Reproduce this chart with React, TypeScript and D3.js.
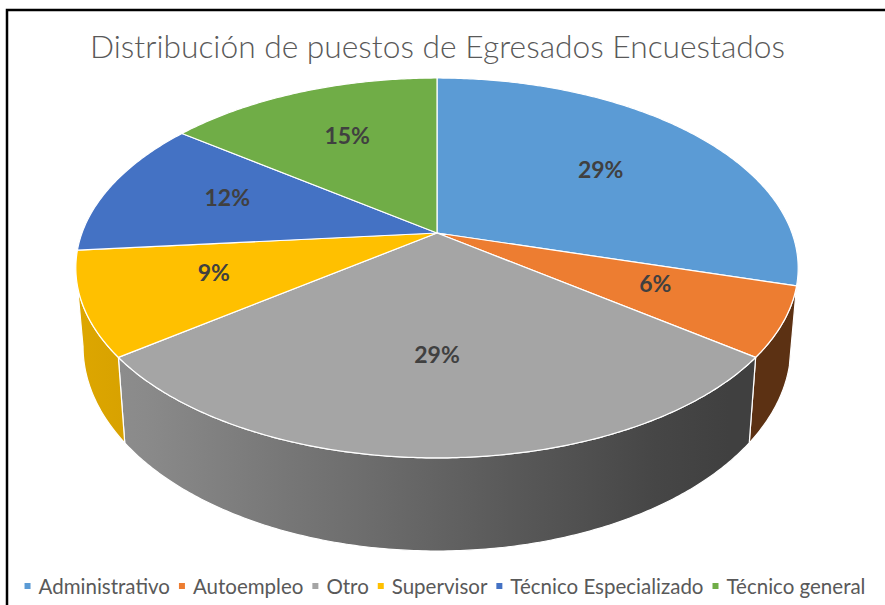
import React, { useEffect, useRef } from 'react';
import * as d3 from 'd3';

const title = 'Distribución de puestos de Egresados Encuestados';
const categories = ['Administrativo', 'Autoempleo', 'Otro', 'Supervisor', 'Técnico Especializado', 'Técnico general'];
const counts = [10, 2, 10, 3, 4, 5];
const colors = ['#5B9BD5', '#ED7D31', '#A5A5A5', '#FFC000', '#4472C4', '#70AD47'];

const App = () => {
    const ref = useRef<SVGSVGElement>(null);

    useEffect(() => {
        const width = 885;
        const height = 605;
        const svg = d3.select(ref.current);
        svg.selectAll('*').remove();

        // outer frame (only top and left edges show in the crop)
        svg.append('path')
            .attr('d', `M7,${height}V10H${width}`)
            .attr('fill', 'none')
            .attr('stroke', '#000')
            .attr('stroke-width', 2.5);

        // title
        svg.append('text')
            .attr('x', 437.5)
            .attr('y', 58)
            .attr('text-anchor', 'middle')
            .attr('font-family', 'Lato, "Open Sans", sans-serif')
            .attr('font-weight', 300)
            .attr('font-size', 31)
            .attr('fill', '#595959')
            .attr('textLength', 695)
            .attr('lengthAdjust', 'spacingAndGlyphs')
            .text(title);

        // tilted disc with a little perspective
        const cx = 437, cy = 233, rx = 355, ry = 183.5, persp = 0.184, depth = 76;
        const proj = (r: number, a: number): [number, number] => {
            const w = 1 + persp * r * Math.cos(a);
            return [cx + (rx * r * Math.sin(a)) / w, cy - (ry * r * Math.cos(a)) / w];
        };
        const projBottom = (a: number): [number, number] => {
            const [x, y] = proj(1, a);
            const w = 1 + persp * Math.cos(a);
            return [cx + (x - cx) * 0.98, y + depth / w];
        };
        const sweep = (a0: number, a1: number) => {
            const n = Math.max(2, Math.ceil(Math.abs(a1 - a0) / 0.01));
            return d3.range(n + 1).map((i) => a0 + ((a1 - a0) * i) / n);
        };

        const pie = d3.pie<number>().sort(null).value((d) => d);
        const arcs = pie(counts);
        const total = d3.sum(counts);
        const line = d3.line();

        // side shading gets darker to the right
        const shade = d3.scaleLinear().domain([100, 700]).range([0.87, 0.39]).clamp(true);
        const defs = svg.append('defs');
        const gx0 = cx - rx - 10, gx1 = cx + rx + 10;
        colors.forEach((c, i) => {
            const g = defs.append('linearGradient')
                .attr('id', `side-${i}`)
                .attr('gradientUnits', 'userSpaceOnUse')
                .attr('x1', gx0).attr('x2', gx1).attr('y1', 0).attr('y2', 0);
            d3.range(11).forEach((k) => {
                const t = k / 10;
                const f = shade(gx0 + t * (gx1 - gx0));
                const rgb = d3.rgb(c);
                g.append('stop')
                    .attr('offset', t)
                    .attr('stop-color', d3.rgb(rgb.r * f, rgb.g * f, rgb.b * f).formatHex());
            });
        });

        // side walls (front half only)
        const sideStart = Math.acos(-persp);
        const sideEnd = 2 * Math.PI - sideStart;
        arcs.forEach((d, i) => {
            const a0 = Math.max(d.startAngle, sideStart);
            const a1 = Math.min(d.endAngle, sideEnd);
            if (a0 >= a1) return;
            const pts = [
                ...sweep(a0, a1).map((a) => proj(1, a)),
                ...sweep(a1, a0).map((a) => projBottom(a)),
            ];
            svg.append('path')
                .attr('d', line(pts) + 'Z')
                .attr('fill', `url(#side-${i})`)
                .attr('stroke', '#fff')
                .attr('stroke-width', 1.2)
                .attr('stroke-linejoin', 'round');
        });

        // top faces
        const tops = arcs.map((d) => [proj(0, 0), ...sweep(d.startAngle, d.endAngle).map((a) => proj(1, a))]);
        tops.forEach((pts, i) => {
            svg.append('path')
                .attr('d', line(pts as [number, number][]) + 'Z')
                .attr('fill', colors[i])
                .attr('stroke', '#fff')
                .attr('stroke-width', 1.2)
                .attr('stroke-linejoin', 'round');
        });

        // percentage labels: halfway between slice centroid and mid-angle point
        arcs.forEach((d, i) => {
            const [mx, my] = proj(0.62, (d.startAngle + d.endAngle) / 2);
            const [gx, gy] = d3.polygonCentroid(tops[i] as [number, number][]);
            svg.append('text')
                .attr('x', (mx + gx) / 2)
                .attr('y', (my + gy) / 2 - 7)
                .attr('text-anchor', 'middle')
                .attr('dominant-baseline', 'central')
                .attr('font-family', 'Lato, "Open Sans", sans-serif')
                .attr('font-weight', 700)
                .attr('font-size', 23)
                .attr('fill', '#404040')
                .text(d3.format('.0%')(d.data / total));
        });

        // legend, laid out from measured text widths
        const legend = svg.append('g');
        let x = 0;
        categories.forEach((name, i) => {
            const item = legend.append('g').attr('transform', `translate(${x},0)`);
            item.append('rect')
                .attr('x', 0).attr('y', -3).attr('width', 6).attr('height', 6)
                .attr('fill', colors[i]);
            const t = item.append('text')
                .attr('x', 14)
                .attr('y', 0)
                .attr('dominant-baseline', 'central')
                .attr('font-family', 'Lato, "Open Sans", sans-serif')
                .attr('font-size', 20.5)
                .attr('fill', '#595959')
                .text(name);
            const w = (t.node() as SVGTextElement).getComputedTextLength();
            x += 14 + w + 9;
        });
        const legendWidth = x - 9;
        legend.attr('transform', `translate(${445 - legendWidth / 2},586)`);
    }, []);

    return (
        <svg
            ref={ref}
            width={885}
            height={605}
            style={{ position: 'absolute', left: 0, top: 0, background: '#fff' }}
        />
    );
};

export default App;
